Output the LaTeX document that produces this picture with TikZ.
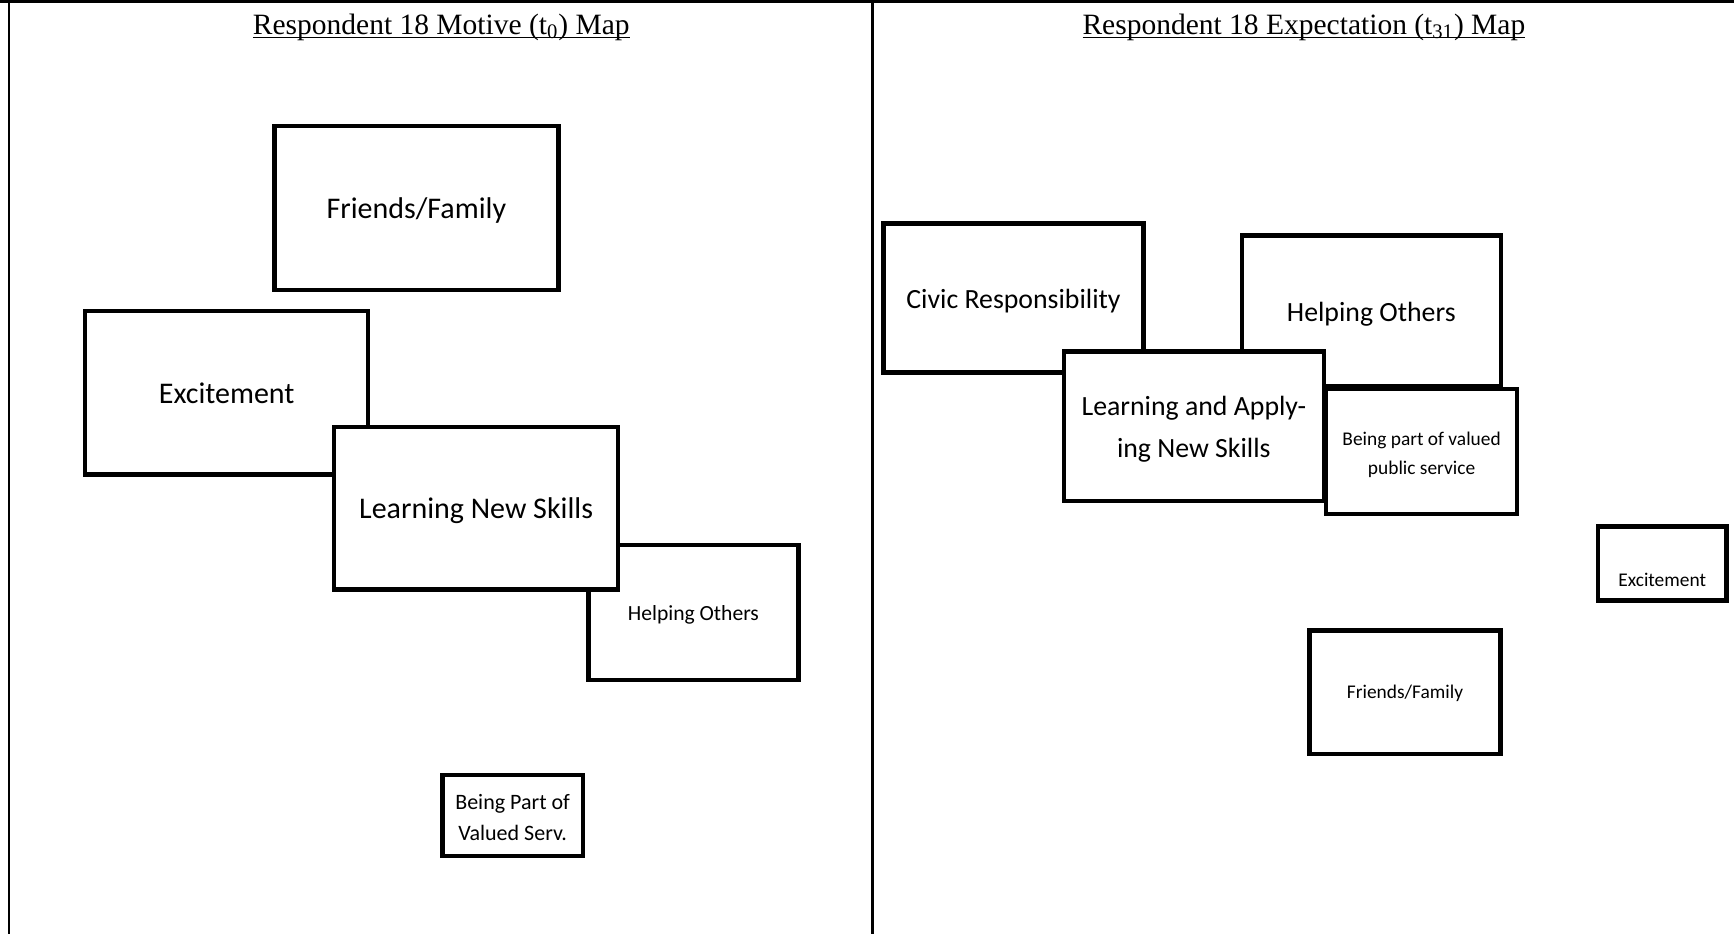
\documentclass[tikz,border=0pt]{standalone}
\usepackage{fontspec}
\setmainfont{Liberation Serif}
\newfontfamily\boxfont{Carlito}
\newcommand\ulttl[1]{\setbox0\hbox{#1}\rlap{\rule[-2pt]{\wd0}{0.8pt}}\box0}
\newcommand\topup[1]{\rule{0pt}{\dimexpr\fontcharht\font`l+#1\relax}}
\begin{document}
\begin{tikzpicture}[x=0.5pt,y=-0.5pt,
  frameline/.style={line width=1.2pt},
  topline/.style={line width=1.8pt},
  box/.style={draw, line width=2.2pt, fill=white, rectangle, inner sep=0pt, align=center, font=\boxfont},
  big/.style={font=\boxfont\fontsize{15}{19}\selectfont, text height=10.8pt, text depth=0pt},
  mid/.style={font=\boxfont\fontsize{13.9}{21}\selectfont},
  small/.style={font=\boxfont\fontsize{9.7}{14.4}\selectfont},
  ttl/.style={anchor=base, inner sep=0pt, font=\fontsize{14.75}{18}\selectfont}]
\useasboundingbox (0,0) rectangle (1734,934);
\fill[white] (0,0) rectangle (1734,934);
% frame
\draw[topline] (0,1.5) -- (1734,1.5);
\draw[frameline] (8.8,0) -- (8.8,934);
\draw[frameline] (872.6,0) -- (872.6,934);
% titles
\node[ttl] (t1) at (441.3,34.3) {\ulttl{Respondent 18 Motive (t\textsubscript{0}) Map}};
\node[ttl] (t2) at (1303.9,34.3) {\ulttl{Respondent 18 Expectation (t\textsubscript{31}) Map}};
% left panel
\node[box, big, minimum width=142.1pt, minimum height=81.8pt] (ff1) at (416.4,207.9) {Friends/Family};
\node[box, big, minimum width=141.55pt, minimum height=81.8pt] (exc1) at (226.7,392.6) {Excitement};
\node[box, font=\boxfont\fontsize{10.8}{14}\selectfont, text height=7.6pt, text depth=0pt, minimum width=105.1pt, minimum height=67.45pt] (ho1) at (693.4,612.6) {Helping Others};
\node[box, big, minimum width=142.1pt, minimum height=81.25pt] (lns) at (476.1,508.1) {Learning New Skills};
\node[box, font=\boxfont\fontsize{11}{15.5}\selectfont, minimum width=70.2pt, minimum height=40.4pt] (bp) at (512.6,815.6) {\topup{2.2pt}Being Part of\\Valued Serv.};
% right panel
\node[box, mid, text height=10.2pt, text depth=0pt, minimum width=129.95pt, minimum height=74.65pt] (civ) at (1013.5,298) {Civic Responsibility};
\node[box, mid, text height=10.2pt, text depth=0pt, minimum width=129.4pt, minimum height=75.2pt] (ho2) at (1371.3,310.8) {Helping Others};
\node[box, mid, minimum width=129.95pt, minimum height=74.65pt] (laans) at (1193.8,426.3) {\topup{2.8pt}Learning and Apply-\\ing New Skills};
\node[box, small, minimum width=95.65pt, minimum height=62.45pt] (bpv) at (1421.6,451.7) {\topup{2.8pt}Being part of valued\\public service};
\node[box, small, text height=23.4pt, text depth=0pt, minimum width=64.15pt, minimum height=37.05pt] (exc2) at (1662.2,563.4) {Excitement};
\node[box, small, text height=6pt, text depth=0pt, minimum width=95.65pt, minimum height=61.9pt] (ff2) at (1405,692.3) {Friends/Family};
\end{tikzpicture}
\end{document}
